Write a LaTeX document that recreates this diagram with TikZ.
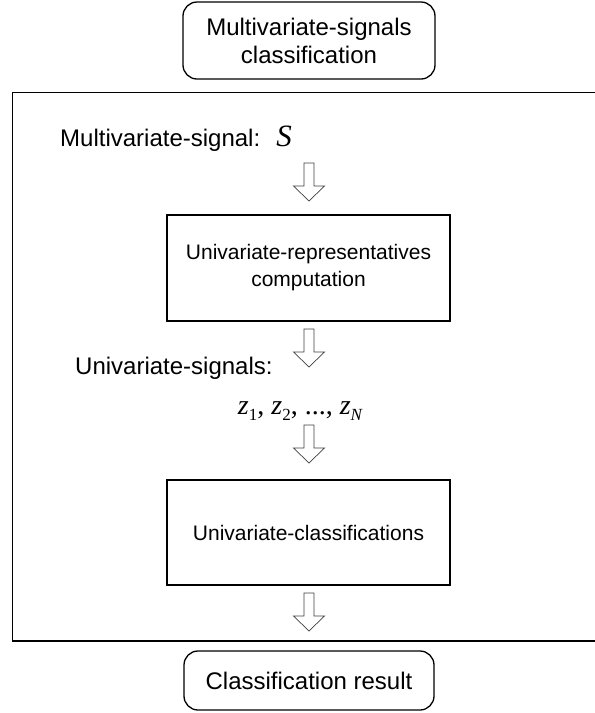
\documentclass[tikz,border=0pt]{standalone}
\usepackage{fontspec}
\setmainfont{Liberation Sans}
\newfontfamily\tms{Liberation Serif}
\newcommand\blockarr[2]{%
  \draw[barrow] (#1-5,#2) -- (#1+5,#2) -- (#1+5,#2+23) -- (#1+15.5,#2+23) -- (#1,#2+38) -- (#1-15.5,#2+23) -- (#1-5,#2+23) -- cycle;}
\begin{document}
\begin{tikzpicture}[x=1pt,y=-1pt,
  rbox/.style={draw, line width=1.3pt, rounded corners=14pt, align=center, inner sep=0pt},
  sbox/.style={draw, line width=1.1pt, align=center, inner sep=0pt},
  barrow/.style={draw=black!75, line width=0.7pt, fill=white},
  big/.style={font=\fontsize{24}{28}\selectfont},
  mid/.style={font=\fontsize{21}{27}\selectfont}]
\useasboundingbox (0,0) rectangle (595,713);
\clip (0,0) rectangle (595,713);
% top rounded box
\node[rbox, big, minimum width=252pt, minimum height=77pt] (top) at (309,40.5) {Multivariate-signals\\classification};
% outer frame (right side outside the picture)
\coordinate (fTR) at (600,92.5);
\coordinate (fTL) at (12.3,92.5);
\coordinate (fBL) at (12.3,641);
\coordinate (fBR) at (600,641);
\draw[line width=1.1pt] (fTR) -- (fTL) -- (fBL) -- (fBR);
% input label
\node[big, anchor=base west, inner sep=0pt] (ms) at (60,146) {Multivariate-signal:};
\node[anchor=base, inner sep=0pt, font=\tms\itshape\fontsize{31}{31}\selectfont] (S) at (284,146) {S};
\blockarr{309}{163}
% box 1
\node[sbox, mid, minimum width=283pt, minimum height=106pt] (b1) at (308.5,268) {Univariate-representatives\\computation};
\blockarr{309}{329}
\node[big, anchor=base west, inner sep=0pt] (us) at (75,374) {Univariate-signals:};
\node[anchor=base, inner sep=0pt, font=\tms\fontsize{28}{28}\selectfont] (z) at (300,414)
  {\itshape z\/\upshape\raisebox{-6pt}{\fontsize{17}{17}\selectfont 1}, \itshape z\/\upshape\raisebox{-6pt}{\fontsize{17}{17}\selectfont 2}, ..., \itshape z\/\raisebox{-6pt}{\fontsize{17}{17}\selectfont N}};
\blockarr{309}{425}
% box 2
\node[sbox, mid, minimum width=283pt, minimum height=105pt] (b2) at (308.5,532.5) {Univariate-classifications};
\blockarr{309}{593}
% result box
\node[rbox, big, minimum width=250pt, minimum height=59pt] (res) at (309,680.5) {Classification result};
\end{tikzpicture}
\end{document}
